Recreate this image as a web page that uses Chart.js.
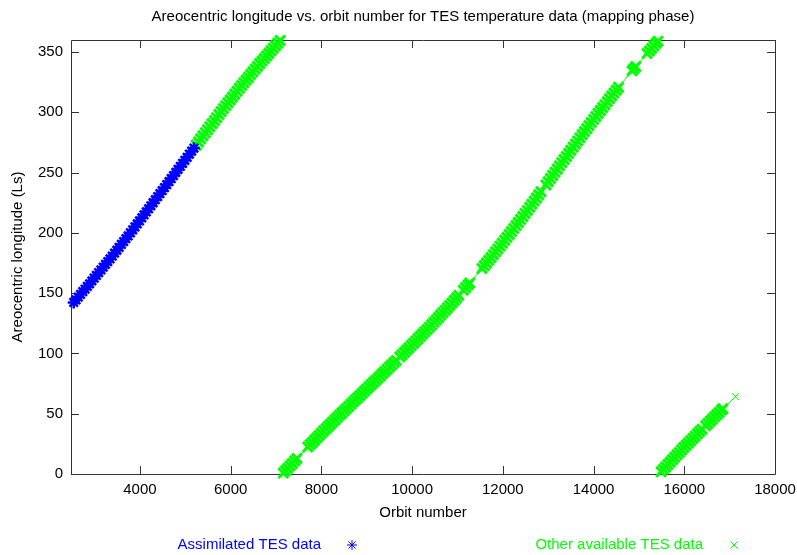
<!DOCTYPE html>
<html>
<head>
<meta charset="utf-8">
<script src="https://cdn.jsdelivr.net/npm/chart.js@4.4.1/dist/chart.umd.min.js"></script>
<style>
  html, body { margin: 0; padding: 0; background: #fff; }
  #wrap { width: 797px; height: 555px; }
</style>
</head>
<body>
<div id="wrap"><canvas id="chart" width="797" height="555"></canvas></div>
<script>
// orbit number vs areocentric longitude
const assimOrbit = [
  2540, 2590, 2640, 2690, 2740, 2790, 2840, 2890, 2940, 2990,
  3040, 3090, 3140, 3190, 3240, 3290, 3340, 3390, 3440, 3490,
  3540, 3590, 3640, 3690, 3740, 3790, 3840, 3890, 3940, 3990,
  4040, 4090, 4140, 4190, 4240, 4290, 4340, 4390, 4440, 4490,
  4540, 4590, 4640, 4690, 4740, 4790, 4840, 4890, 4940, 4990,
  5040, 5090, 5140, 5190
];
const assimLs = [
  142.3, 144.5, 146.7, 149.0, 151.2, 153.4, 155.6, 157.8, 160.1, 162.4,
  164.7, 167.0, 169.3, 171.6, 173.9, 176.2, 178.5, 180.8, 183.2, 185.6,
  188.0, 190.4, 192.8, 195.2, 197.6, 200.0, 202.5, 205.0, 207.5, 210.0,
  212.5, 215.0, 217.5, 220.0, 222.5, 225.0, 227.5, 230.0, 232.5, 235.0,
  237.5, 240.0, 242.6, 245.1, 247.6, 250.1, 252.6, 255.1, 257.7, 260.2,
  262.7, 265.3, 267.8, 270.3
];

// other TES data, first Mars year (end of it)
const otherOrbit1 = [
  5240, 5290, 5340, 5390, 5440, 5490, 5540, 5590, 5640, 5690,
  5740, 5790, 5840, 5890, 5940, 5990, 6040, 6090, 6140, 6190,
  6240, 6290, 6340, 6390, 6440, 6490, 6540, 6590, 6640, 6690,
  6740, 6790, 6840, 6890, 6940, 6990, 7040, 7090
];
const otherLs1 = [
  272.8, 275.4, 278.0, 280.6, 283.1, 285.6, 288.1, 290.6, 293.1, 295.6,
  298.2, 300.7, 303.1, 305.5, 307.9, 310.3, 312.7, 315.1, 317.5, 319.9,
  322.2, 324.5, 326.8, 329.0, 331.3, 333.6, 335.9, 338.1, 340.4, 342.5,
  344.6, 346.8, 348.9, 351.0, 353.2, 355.3, 357.4, 359.6
];

// second Mars year (with data gaps)
const otherOrbit2 = [
  7160, 7210, 7260, 7310, 7360, 7410, 7460,
  7700, 7750, 7800, 7850, 7900, 7950, 8000, 8050, 8100, 8150,
  8200, 8250, 8300, 8350, 8400, 8450, 8500, 8550, 8600, 8650,
  8700, 8750, 8800, 8850, 8900, 8950, 9000, 9050, 9100, 9150,
  9200, 9250, 9300, 9350, 9400, 9450, 9500, 9550, 9600, 9650,
  9730, 9780, 9830, 9880, 9930, 9980, 10030, 10080, 10130, 10180,
  10230, 10280, 10330, 10380, 10430, 10480, 10530, 10580, 10630, 10680,
  10730, 10780, 10830, 10880, 10930, 10980, 11030,
  11130, 11180, 11230, 11270,
  11540, 11590, 11640, 11690, 11740, 11790, 11840, 11890, 11940, 11990,
  12040, 12090, 12140, 12190, 12240, 12290, 12340, 12390, 12440, 12490,
  12540, 12590, 12640, 12690, 12740, 12790, 12840,
  12950, 13000, 13050, 13100, 13150, 13200, 13250, 13300, 13350, 13400,
  13450, 13500, 13550, 13600, 13650, 13700, 13750, 13800, 13850, 13900,
  13950, 14000, 14050, 14100, 14150, 14200, 14250, 14300, 14350, 14400,
  14450, 14500, 14550,
  14850, 14890, 14930,
  15180, 15230, 15280, 15330, 15380, 15420
];
const otherLs2 = [
  0.8, 2.8, 4.8, 6.8, 8.8, 10.8, 12.9,
  22.4, 24.3, 26.2, 28.1, 30.0, 31.9, 33.8, 35.7, 37.6, 39.5,
  41.3, 43.2, 45.0, 46.8, 48.7, 50.5, 52.4, 54.2, 56.0, 57.9,
  59.7, 61.5, 63.3, 65.1, 66.9, 68.8, 70.6, 72.4, 74.2, 76.0,
  77.8, 79.6, 81.4, 83.3, 85.1, 86.9, 88.8, 90.6, 92.4, 94.2,
  97.2, 99.0, 100.9, 102.8, 104.7, 106.6, 108.5, 110.4, 112.3, 114.2,
  116.1, 118.0, 119.8, 121.8, 123.8, 125.8, 127.8, 129.8, 131.8, 133.8,
  135.8, 137.8, 139.8, 141.9, 144.0, 146.1, 148.2,
  152.5, 154.6, 156.7, 158.4,
  170.5, 172.8, 175.0, 177.3, 179.5, 181.9, 184.3, 186.7, 189.1, 191.5,
  193.9, 196.3, 198.7, 201.1, 203.6, 206.1, 208.6, 211.1, 213.6, 216.1,
  218.6, 221.2, 223.8, 226.4, 229.0, 231.6, 234.2,
  239.8, 242.5, 245.1, 247.7, 250.3, 252.9, 255.6, 258.2, 260.8, 263.4,
  266.0, 268.5, 271.1, 273.7, 276.3, 278.9, 281.5, 284.0, 286.5, 289.0,
  291.5, 294.1, 296.6, 299.1, 301.5, 303.9, 306.3, 308.8, 311.2, 313.6,
  316.0, 318.4, 320.7,
  334.4, 336.2, 338.0,
  348.8, 350.9, 353.0, 355.2, 357.3, 359.0
];

// third Mars year (start of it), last one is a lone orbit
const otherOrbit3 = [
  15490, 15540, 15590, 15640, 15690, 15740, 15790, 15840, 15890, 15940,
  15990, 16040, 16090, 16140, 16190, 16240, 16290, 16340, 16390,
  16470, 16520, 16570, 16620, 16670, 16720, 16770, 16820, 16850,
  17127
];
const otherLs3 = [
  1.9, 3.9, 5.9, 7.9, 9.9, 11.9, 13.9, 15.9, 17.9, 20.0,
  21.9, 23.8, 25.7, 27.6, 29.5, 31.4, 33.3, 35.2, 37.1,
  40.1, 41.9, 43.8, 45.6, 47.5, 49.3, 51.1, 53.0, 54.1,
  64.2
];

const xTicks = [4000, 6000, 8000, 10000, 12000, 14000, 16000, 18000];
const yTicks = [0, 50, 100, 150, 200, 250, 300, 350];

const BLUE = '#0000ff';
const GREEN = '#00ff00';
const FONT = '"Liberation Sans", Arial, Helvetica, sans-serif';

Chart.defaults.font.family = FONT;
Chart.defaults.font.size = 15;
Chart.defaults.color = '#000';

function toPoints(xs, ys) {
  return xs.map((x, i) => ({ x: x, y: ys[i] }));
}

// one green dataset, broken where Ls wraps from 360 back to 0
const otherPoints = [].concat(
  toPoints(otherOrbit1, otherLs1),
  [{ x: otherOrbit1[otherOrbit1.length - 1], y: null }],
  toPoints(otherOrbit2, otherLs2),
  [{ x: otherOrbit2[otherOrbit2.length - 1], y: null }],
  toPoints(otherOrbit3, otherLs3)
);
const loneIndex = otherPoints.length - 1;

// gnuplot-like border with inward (mirrored) tics
const frame = {
  id: 'frame',
  beforeDatasetsDraw(chart) {
    const { ctx, chartArea: a, scales } = chart;
    const len = 8;
    ctx.save();
    ctx.strokeStyle = '#333';
    ctx.lineWidth = 1;
    ctx.beginPath();
    ctx.rect(Math.round(a.left) + 0.5, Math.round(a.top) + 0.5,
      Math.round(a.right - a.left), Math.round(a.bottom - a.top));
    xTicks.forEach(v => {
      const px = Math.round(scales.x.getPixelForValue(v)) + 0.5;
      ctx.moveTo(px, a.bottom); ctx.lineTo(px, a.bottom - len);
      ctx.moveTo(px, a.top); ctx.lineTo(px, a.top + len);
    });
    yTicks.forEach(v => {
      const py = Math.round(scales.y.getPixelForValue(v)) + 0.5;
      ctx.moveTo(a.left, py); ctx.lineTo(a.left + len, py);
      ctx.moveTo(a.right, py); ctx.lineTo(a.right - len, py);
    });
    ctx.stroke();
    ctx.restore();
  }
};

// key under the plot: label first, marker to the right
const bottomKey = {
  id: 'bottomKey',
  afterDraw(chart) {
    const ctx = chart.ctx;
    const spots = [
      { textRight: 321, markX: 352 },
      { textRight: 703, markX: 734 }
    ];
    const y = 545;
    ctx.save();
    ctx.font = '15px ' + FONT;
    ctx.textAlign = 'right';
    ctx.textBaseline = 'middle';
    chart.data.datasets.forEach((ds, i) => {
      const s = spots[i];
      ctx.fillStyle = ds.borderColor;
      ctx.strokeStyle = ds.borderColor;
      ctx.fillText(ds.label, s.textRight, y);
      Chart.helpers.drawPoint(ctx, { pointStyle: ds.pointStyle, radius: 5, borderWidth: 1, rotation: 0 }, s.markX, y);
    });
    ctx.restore();
  }
};

new Chart(document.getElementById('chart'), {
  type: 'scatter',
  data: {
    datasets: [{
      label: 'Assimilated TES data',
      data: toPoints(assimOrbit, assimLs),
      pointStyle: 'star',
      pointRadius: 6,
      pointBorderWidth: 2.5,
      borderColor: BLUE,
      backgroundColor: BLUE,
      showLine: false,
      clip: 6
    }, {
      label: 'Other available TES data',
      data: otherPoints,
      pointStyle: 'crossRot',
      pointRadius: c => (c.dataIndex === loneIndex ? 5 : 7),
      pointBorderWidth: c => (c.dataIndex === loneIndex ? 1 : 3),
      borderColor: GREEN,
      backgroundColor: GREEN,
      borderWidth: 1,
      showLine: true,
      spanGaps: false,
      clip: 6
    }]
  },
  options: {
    responsive: false,
    animation: false,
    devicePixelRatio: 1,
    layout: { padding: { left: 0, right: 22, top: 0, bottom: 31 } },
    plugins: {
      legend: { display: false },
      tooltip: { enabled: false },
      title: {
        display: true,
        fullSize: false,
        text: 'Areocentric longitude vs. orbit number for TES temperature data (mapping phase)',
        font: { size: 15, weight: 'normal' },
        color: '#000',
        padding: { top: 8, bottom: 14 }
      }
    },
    scales: {
      x: {
        type: 'linear',
        min: 2480,
        max: 18000,
        afterBuildTicks: s => { s.ticks = xTicks.map(v => ({ value: v })); },
        afterFit: s => { s.height = 50; s.paddingLeft = 0; s.paddingRight = 0; },
        grid: { display: false, drawTicks: false },
        border: { display: false },
        ticks: { padding: 7, maxRotation: 0, autoSkip: false, callback: v => String(v) },
        title: { display: true, text: 'Orbit number', padding: { top: 0, bottom: 2 } }
      },
      y: {
        type: 'linear',
        min: 0,
        max: 360,
        afterBuildTicks: s => { s.ticks = yTicks.map(v => ({ value: v })); },
        afterFit: s => { s.width = 71; s.paddingTop = 0; s.paddingBottom = 0; },
        grid: { display: false, drawTicks: false },
        border: { display: false },
        ticks: { padding: 8, callback: v => String(v) },
        title: { display: true, text: 'Areocentric longitude (Ls)', padding: { top: 9, bottom: 0 } }
      }
    }
  },
  plugins: [frame, bottomKey]
});
</script>
</body>
</html>
